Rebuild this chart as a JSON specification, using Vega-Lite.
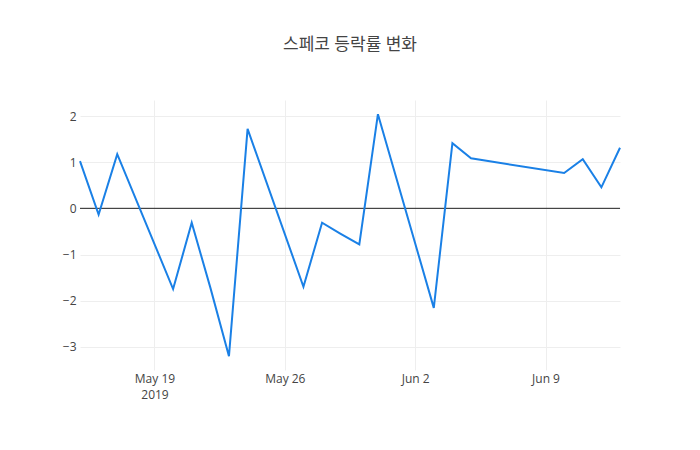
{
  "$schema": "https://vega.github.io/schema/vega-lite/v6.json",
  "width": 540,
  "height": 270,
  "autosize": "none",
  "padding": {"left": 80, "top": 100, "right": 80, "bottom": 80},
  "background": "white",
  "config": {
    "font": "Open Sans, Noto Sans CJK KR",
    "view": {"stroke": null}
  },
  "title": {
    "text": "스페코 등락률 변화",
    "fontSize": 17,
    "fontWeight": "normal",
    "color": "#444",
    "font": "Open Sans, Noto Sans CJK KR",
    "anchor": "middle",
    "offset": 46
  },
  "data": {
    "values": [
      {"date": "2019-05-15", "change": 1.03},
      {"date": "2019-05-16", "change": -0.13},
      {"date": "2019-05-17", "change": 1.18},
      {"date": "2019-05-20", "change": -1.75},
      {"date": "2019-05-21", "change": -0.31},
      {"date": "2019-05-22", "change": -1.72},
      {"date": "2019-05-23", "change": -3.21},
      {"date": "2019-05-24", "change": 1.73},
      {"date": "2019-05-27", "change": -1.7},
      {"date": "2019-05-28", "change": -0.31},
      {"date": "2019-05-29", "change": -0.55},
      {"date": "2019-05-30", "change": -0.78},
      {"date": "2019-05-31", "change": 2.05},
      {"date": "2019-06-03", "change": -2.16},
      {"date": "2019-06-04", "change": 1.42},
      {"date": "2019-06-05", "change": 1.09},
      {"date": "2019-06-10", "change": 0.77},
      {"date": "2019-06-11", "change": 1.07},
      {"date": "2019-06-12", "change": 0.46},
      {"date": "2019-06-13", "change": 1.32}
    ]
  },
  "encoding": {
    "x": {
      "field": "date",
      "type": "temporal",
      "title": null,
      "scale": {"type": "utc", "nice": false},
      "axis": {
        "values": [
          {"year": 2019, "month": 5, "date": 19, "utc": true},
          {"year": 2019, "month": 5, "date": 26, "utc": true},
          {"year": 2019, "month": 6, "date": 2, "utc": true},
          {"year": 2019, "month": 6, "date": 9, "utc": true}
        ],
        "labelExpr": "utcFormat(datum.value, '%d') == '19' ? [utcFormat(datum.value, '%b %-d'), '2019'] : utcFormat(datum.value, '%b %-d')",
        "labelLineHeight": 16,
        "labelFontSize": 12,
        "labelColor": "#444",
        "labelPadding": 3,
        "labelBaseline": "top",
        "domain": false,
        "ticks": false,
        "grid": true,
        "gridColor": "#eee",
        "labelFlush": false
      }
    },
    "y": {
      "field": "change",
      "type": "quantitative",
      "title": null,
      "scale": {"domain": [-3.51, 2.358], "nice": false, "zero": false},
      "axis": {
        "values": [-3, -2, -1, 0, 1, 2],
        "labelExpr": "replace(datum.label, '-', '−')",
        "labelFontSize": 12,
        "labelColor": "#444",
        "labelPadding": 4,
        "domain": false,
        "ticks": false,
        "grid": true,
        "gridColor": "#eee"
      }
    }
  },
  "layer": [
    {
      "mark": {"type": "rule", "color": "#444", "strokeWidth": 1},
      "encoding": {"y": {"datum": 0}, "x": null}
    },
    {
      "mark": {"type": "line", "color": "#1a80e6", "strokeWidth": 2}
    }
  ]
}
